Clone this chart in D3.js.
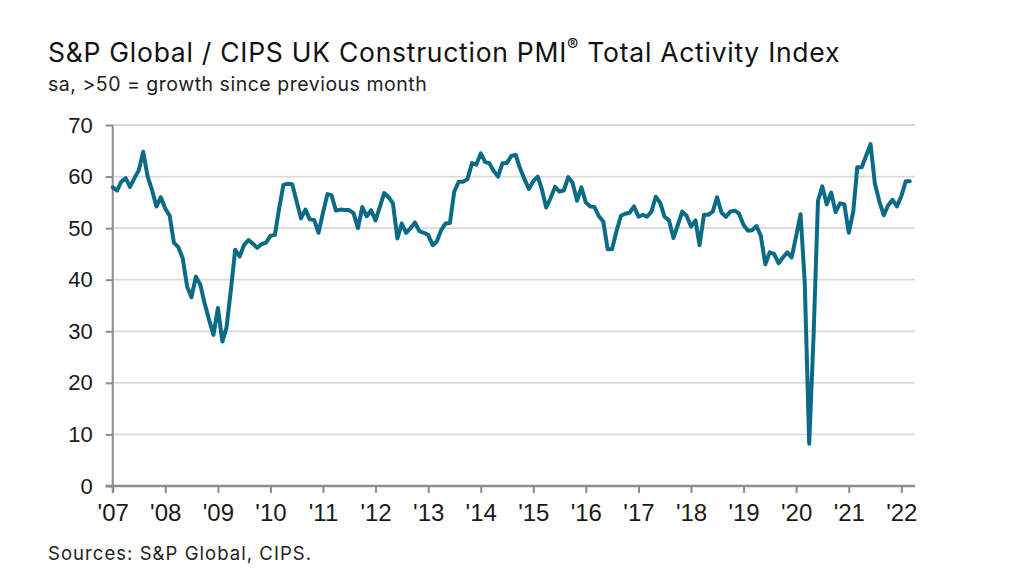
<!DOCTYPE html>
<html>
<head>
<meta charset="utf-8">
<script src="https://cdn.jsdelivr.net/npm/d3@7"></script>
<style>
  body { margin: 0; background: #fff; }
  svg { display: block; }
</style>
</head>
<body>
<div id="chart"></div>
<script>
// monthly index values, Jan of each year onwards
var pmi2007 = [57.9, 57.3, 59.0, 59.7, 58.0, 59.7, 61.2, 64.8, 60.0, 57.4, 54.2, 56.0];
var pmi2008 = [53.8, 52.4, 47.2, 46.3, 44.2, 38.7, 36.6, 40.6, 39.0, 35.4, 32.2, 29.3];
var pmi2009 = [34.5, 28.0, 30.6, 38.0, 45.8, 44.5, 46.7, 47.7, 47.0, 46.2, 46.9, 47.2];
var pmi2010 = [48.5, 48.7, 53.6, 58.4, 58.6, 58.5, 55.3, 51.9, 53.6, 51.7, 51.6, 49.1];
var pmi2011 = [53.0, 56.6, 56.4, 53.4, 53.6, 53.5, 53.5, 52.9, 50.0, 54.1, 52.3, 53.5];
var pmi2012 = [51.5, 54.2, 56.8, 56.0, 54.8, 48.0, 50.9, 49.1, 50.0, 51.1, 49.4, 49.1];
var pmi2013 = [48.7, 46.7, 47.4, 49.6, 50.9, 51.0, 57.1, 59.0, 59.0, 59.5, 62.6, 62.3];
var pmi2014 = [64.5, 62.8, 62.6, 61.1, 60.0, 62.6, 62.6, 64.0, 64.2, 61.6, 59.5, 57.6];
var pmi2015 = [59.1, 60.0, 57.6, 54.0, 55.8, 58.0, 57.1, 57.3, 59.9, 58.8, 55.3, 57.9];
var pmi2016 = [55.0, 54.2, 54.1, 52.3, 51.3, 45.9, 45.9, 49.4, 52.4, 52.8, 53.0, 54.2];
var pmi2017 = [52.2, 52.6, 52.2, 53.2, 56.1, 54.9, 52.2, 51.5, 48.1, 50.6, 53.2, 52.4];
var pmi2018 = [50.3, 51.5, 46.7, 52.6, 52.6, 53.2, 56.0, 53.0, 52.2, 53.2, 53.4, 52.8];
var pmi2019 = [50.6, 49.5, 49.6, 50.4, 48.5, 43.0, 45.3, 45.0, 43.2, 44.3, 45.3, 44.3];
var pmi2020 = [48.4, 52.7, 39.5, 8.2, 28.9, 55.3, 58.1, 54.6, 56.9, 53.1, 54.8, 54.6];
var pmi2021 = [49.1, 53.2, 61.8, 61.8, 64.0, 66.3, 58.7, 55.2, 52.5, 54.4, 55.5, 54.2];
var pmi2022 = [56.2, 59.1, 59.1];

var years = [2007, 2008, 2009, 2010, 2011, 2012, 2013, 2014, 2015, 2016, 2017, 2018, 2019, 2020, 2021, 2022];
var yTicks = [0, 10, 20, 30, 40, 50, 60, 70];

var title = "S&P Global / CIPS UK Construction PMI";
var titleEnd = " Total Activity Index";
var subtitle = "sa, >50 = growth since previous month";
var source = "Sources: S&P Global, CIPS.";

var width = 1024,
    height = 572;
var plot = { left: 112.7, right: 915, top: 125, bottom: 486 };

var series = [pmi2007, pmi2008, pmi2009, pmi2010, pmi2011, pmi2012, pmi2013, pmi2014,
              pmi2015, pmi2016, pmi2017, pmi2018, pmi2019, pmi2020, pmi2021, pmi2022];
var data = [];
series.forEach((vals, i) => vals.forEach((v, m) => {
    data.push({ date: new Date(years[i], m, 1), value: v });
}));

var svg = d3.select("#chart").append("svg")
    .attr("width", width)
    .attr("height", height);

svg.append("rect").attr("width", width).attr("height", height).attr("fill", "#fff");

var x = d3.scaleTime()
    .domain([new Date(2007, 0, 1), new Date(2022, 3, 6)])
    .range([plot.left, plot.right]);

var y = d3.scaleLinear()
    .domain([0, 70])
    .range([plot.bottom, plot.top]);

// gridlines
svg.append("g").selectAll("line")
    .data(yTicks.filter(d => d > 0))
    .enter().append("line")
    .attr("x1", plot.left)
    .attr("x2", plot.right)
    .attr("y1", d => y(d))
    .attr("y2", d => y(d))
    .attr("stroke", "#d9d9d9")
    .attr("stroke-width", 1.8);

// y axis
var yAxis = svg.append("g")
    .attr("transform", "translate(" + plot.left + ",0)")
    .call(d3.axisLeft(y).tickValues(yTicks).tickSize(7).tickPadding(13).tickSizeOuter(0));
yAxis.select(".domain").remove();
yAxis.selectAll(".tick line").attr("stroke", "#8c8c8c").attr("stroke-width", 2);
yAxis.selectAll(".tick text")
    .attr("font-family", "'Liberation Sans', Arial, sans-serif")
    .attr("font-size", 22)
    .attr("fill", "#1a1a1a");
yAxis.append("line")
    .attr("x1", 0).attr("x2", 0)
    .attr("y1", plot.top).attr("y2", plot.bottom + 7)
    .attr("stroke", "#8c8c8c").attr("stroke-width", 2);

// x axis
var xAxis = svg.append("g")
    .attr("transform", "translate(0," + plot.bottom + ")")
    .call(d3.axisBottom(x)
        .tickValues(years.map(yr => new Date(yr, 0, 1)))
        .tickFormat(d3.timeFormat("'%y"))
        .tickSize(7).tickPadding(11).tickSizeOuter(0));
xAxis.select(".domain").remove();
xAxis.selectAll(".tick line").attr("stroke", "#8c8c8c").attr("stroke-width", 2);
xAxis.selectAll(".tick text")
    .attr("font-family", "'Liberation Sans', Arial, sans-serif")
    .attr("font-size", 24)
    .attr("fill", "#1a1a1a");
xAxis.append("line")
    .attr("x1", plot.left - 7).attr("x2", plot.right)
    .attr("y1", 0).attr("y2", 0)
    .attr("stroke", "#8c8c8c").attr("stroke-width", 2.5);

// index line
var line = d3.line()
    .x(d => x(d.date))
    .y(d => y(d.value));

svg.append("path")
    .datum(data)
    .attr("fill", "none")
    .attr("stroke", "#0b6b86")
    .attr("stroke-width", 4)
    .attr("stroke-linejoin", "round")
    .attr("stroke-linecap", "round")
    .attr("d", line);

// spread letters so a text line ends where it does in the original
function fitWidth(sel, target) {
    var node = sel.node();
    var n = node.textContent.length;
    var w = node.getComputedTextLength();
    sel.attr("letter-spacing", ((target - w) / n).toFixed(2));
}

var t = svg.append("text")
    .attr("x", 48).attr("y", 62)
    .attr("font-family", "Inter, sans-serif")
    .attr("font-size", 26.5)
    .attr("fill", "#111");
t.append("tspan").text(title);
t.append("tspan").attr("font-size", 17).attr("dy", -11).text("®");
t.append("tspan").attr("dy", 11).text(titleEnd);
fitWidth(t, 792);

var st = svg.append("text")
    .attr("x", 48).attr("y", 91)
    .attr("font-family", "Inter, sans-serif")
    .attr("font-size", 19.5)
    .attr("fill", "#222")
    .text(subtitle);
fitWidth(st, 379);

var src = svg.append("text")
    .attr("x", 48).attr("y", 560)
    .attr("font-family", "Inter, sans-serif")
    .attr("font-size", 18.5)
    .attr("fill", "#222")
    .text(source);
fitWidth(src, 264);
</script>
</body>
</html>
